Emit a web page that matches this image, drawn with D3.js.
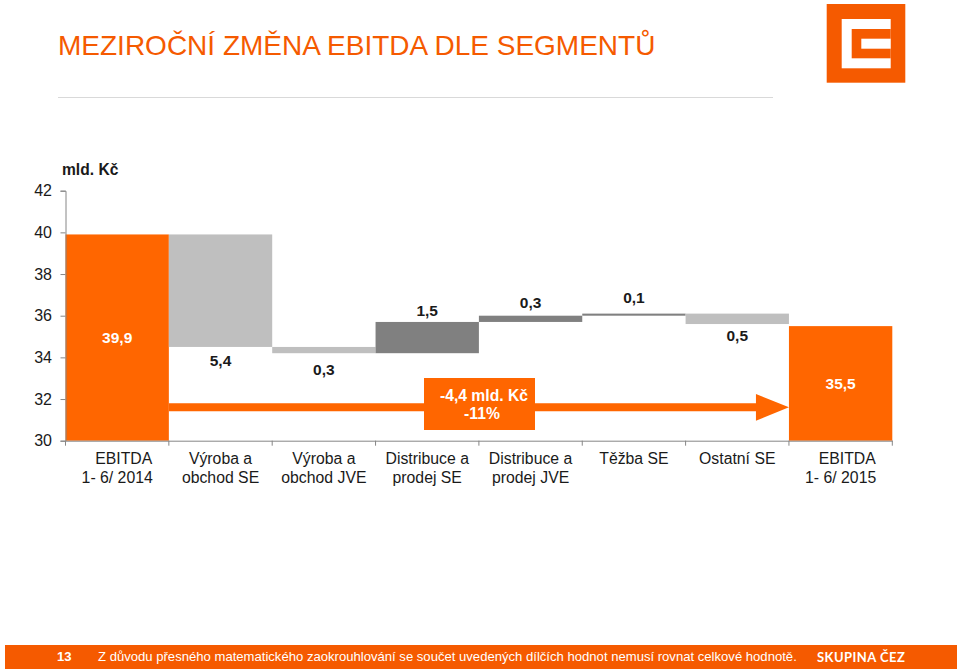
<!DOCTYPE html>
<html lang="cs">
<head>
<meta charset="utf-8">
<title>Meziroční změna EBITDA dle segmentů</title>
<script src="https://cdn.jsdelivr.net/npm/d3@7"></script>
<style>
    html, body { margin: 0; padding: 0; background: #fff; }
    svg { display: block; font-family: "Liberation Sans", Arial, sans-serif; }
</style>
</head>
<body>
<svg id="chart" width="960" height="671"></svg>
<script>
// DATA
const categories = [
    ["\u00a0\u00a0\u00a0EBITDA", "1- 6/ 2014"],
    ["Výroba a", "obchod SE"],
    ["Výroba a", "obchod JVE"],
    ["Distribuce a", "prodej SE"],
    ["Distribuce a", "prodej JVE"],
    ["Těžba SE"],
    ["Ostatní SE"],
    ["\u00a0\u00a0\u00a0EBITDA", "1- 6/ 2015"],
];
const barKinds = ["total", "delta", "delta", "delta", "delta", "delta", "delta", "total"];
const barValues = [39.9, -5.4, -0.3, 1.5, 0.3, 0.1, -0.5, 35.5];
const valueLabels = ["39,9", "5,4", "0,3", "1,5", "0,3", "0,1", "0,5", "35,5"];
const yTicks = [30, 32, 34, 36, 38, 40, 42];

const titleText = "MEZIROČNÍ ZMĚNA EBITDA DLE SEGMENTŮ";
const unitText = "mld. Kč";
const changeLines = ["-4,4 mld. Kč", "-11%"];
const pageNumber = "13";
const footnote = "Z důvodu přesného matematického zaokrouhlování se součet uvedených dílčích hodnot nemusí rovnat celkové hodnotě.";
const brandText = "SKUPINA ČEZ";

// distance of each delta label from its bar, px
const labelGaps = [0, 13.5, 16, 11, 13.5, 16, 12, 0];

const orange = "#ff6600";
const footerOrange = "#f55a00";
const lightGrey = "#bfbfbf";
const darkGrey = "#808080";
const axisGrey = "#868686";
const textColor = "#1a1a1a";

const svg = d3.select("#chart");

const x = d3.scaleBand().domain(d3.range(categories.length)).range([65.5, 892.3]);
const y = d3.scaleLinear().domain([30, 42]).range([440.7, 190.7]);

// waterfall: running total gives each delta bar its start and end
let running = 0;
const bars = barValues.map((value, i) => {
    const isTotal = barKinds[i] === "total";
    const start = isTotal ? 30 : running;
    const end = isTotal ? value : running + value;
    running = isTotal ? value : end;
    return { i, value, isTotal, low: Math.min(start, end), high: Math.max(start, end) };
});

function barColor(bar) {
    if (bar.isTotal) return orange;
    return bar.value < 0 ? lightGrey : darkGrey;
}

// header
svg.append("text")
    .attr("x", 58)
    .attr("y", 55)
    .attr("font-size", 28)
    .attr("fill", "#f55a00")
    .text(titleText);

svg.append("line")
    .attr("x1", 58).attr("x2", 773)
    .attr("y1", 97.5).attr("y2", 97.5)
    .attr("stroke", "#d9d9d9");

// logo
const logoParts = [
    { x: 826.7, y: 4, w: 78.6, h: 78.7, fill: footerOrange },
    { x: 841.7, y: 19, w: 49, h: 49.3, fill: "#fff" },
    { x: 851.7, y: 29, w: 39, h: 29.3, fill: footerOrange },
    { x: 861.3, y: 38.7, w: 29.4, h: 10, fill: "#fff" },
];
svg.append("g").selectAll("rect")
    .data(logoParts)
    .join("rect")
    .attr("x", d => d.x).attr("y", d => d.y)
    .attr("width", d => d.w).attr("height", d => d.h)
    .attr("fill", d => d.fill);

// bars
svg.append("g").selectAll("rect")
    .data(bars)
    .join("rect")
    .attr("x", d => x(d.i))
    .attr("y", d => y(d.high))
    .attr("width", x.bandwidth())
    .attr("height", d => y(d.low) - y(d.high))
    .attr("fill", barColor);

// change arrow and its box
const arrowY = y(31.6);
const arrowEnd = x(7);
const arrowStart = x(1);
svg.append("path")
    .attr("fill", orange)
    .attr("d", `M${arrowStart},${arrowY - 4}H${arrowEnd - 33}V${arrowY - 13.3}L${arrowEnd},${arrowY}L${arrowEnd - 33},${arrowY + 13.3}V${arrowY + 4}H${arrowStart}Z`);

svg.append("rect")
    .attr("x", 424).attr("y", 378)
    .attr("width", 111).attr("height", 52)
    .attr("fill", orange);

svg.append("g").selectAll("text")
    .data(changeLines)
    .join("text")
    .attr("x", (d, i) => i === 0 ? 484 : 482)
    .attr("y", (d, i) => 400.5 + i * 18.5)
    .attr("text-anchor", "middle")
    .attr("font-size", 15.7)
    .attr("font-weight", "bold")
    .attr("fill", "#fff")
    .text(d => d);

// axes
const yAxis = svg.append("g")
    .attr("transform", "translate(65.5,0)")
    .call(d3.axisLeft(y).tickValues(yTicks).tickSize(5).tickPadding(8.5));
yAxis.selectAll("text")
    .attr("font-family", "Liberation Sans, Arial, sans-serif")
    .attr("font-size", 16)
    .attr("fill", textColor);

const xAxis = svg.append("g")
    .attr("transform", `translate(0,${y(30)})`)
    .call(d3.axisBottom(x).tickSize(0).tickFormat(""));

// ticks sit on the band edges, not the band centres
xAxis.selectAll("line.edge")
    .data(d3.range(categories.length + 1))
    .join("line")
    .attr("class", "edge")
    .attr("x1", d => x.range()[0] + d * x.step())
    .attr("x2", d => x.range()[0] + d * x.step())
    .attr("y1", 0).attr("y2", 5)
    .attr("stroke", axisGrey);

[yAxis, xAxis].forEach(axis => {
    axis.selectAll(".domain, .tick line").attr("stroke", axisGrey);
});

// category labels
svg.append("g").selectAll("text")
    .data(categories)
    .join("text")
    .attr("transform", (d, i) => `translate(${x(i) + x.bandwidth() / 2},0)`)
    .attr("text-anchor", "middle")
    .attr("font-size", 15.8)
    .attr("fill", textColor)
    .selectAll("tspan")
    .data(d => d)
    .join("tspan")
    .attr("x", 0)
    .attr("y", (d, i) => 464 + i * 18.7)
    .text(d => d);

// value labels
svg.append("g").selectAll("text")
    .data(bars)
    .join("text")
    .attr("x", d => x(d.i) + x.bandwidth() / 2)
    .attr("y", d => {
        if (d.isTotal) return (y(d.low) + y(d.high)) / 2;
        return d.value < 0 ? y(d.low) + labelGaps[d.i] : y(d.high) - labelGaps[d.i];
    })
    .attr("dy", "0.35em")
    .attr("text-anchor", "middle")
    .attr("font-size", 15.5)
    .attr("font-weight", "bold")
    .attr("fill", d => d.isTotal ? "#fff" : textColor)
    .text((d, i) => valueLabels[i]);

svg.append("text")
    .attr("x", 62)
    .attr("y", 175)
    .attr("font-size", 15.6)
    .attr("font-weight", "bold")
    .attr("fill", textColor)
    .text(unitText);

// footer
svg.append("rect")
    .attr("x", 5).attr("y", 645)
    .attr("width", 952).attr("height", 24)
    .attr("fill", footerOrange);

svg.append("text")
    .attr("x", 57).attr("y", 661)
    .attr("font-size", 13.1)
    .attr("font-weight", "bold")
    .attr("fill", "#fff")
    .text(pageNumber);

svg.append("text")
    .attr("x", 98).attr("y", 661)
    .attr("font-size", 13.1)
    .attr("fill", "#fff")
    .text(footnote);

svg.append("text")
    .attr("x", 817).attr("y", 662)
    .attr("font-family", "Lato, sans-serif")
    .attr("font-size", 13)
    .attr("font-weight", "bold")
    .attr("letter-spacing", 0.45)
    .attr("fill", "#fff")
    .text(brandText);
</script>
</body>
</html>
